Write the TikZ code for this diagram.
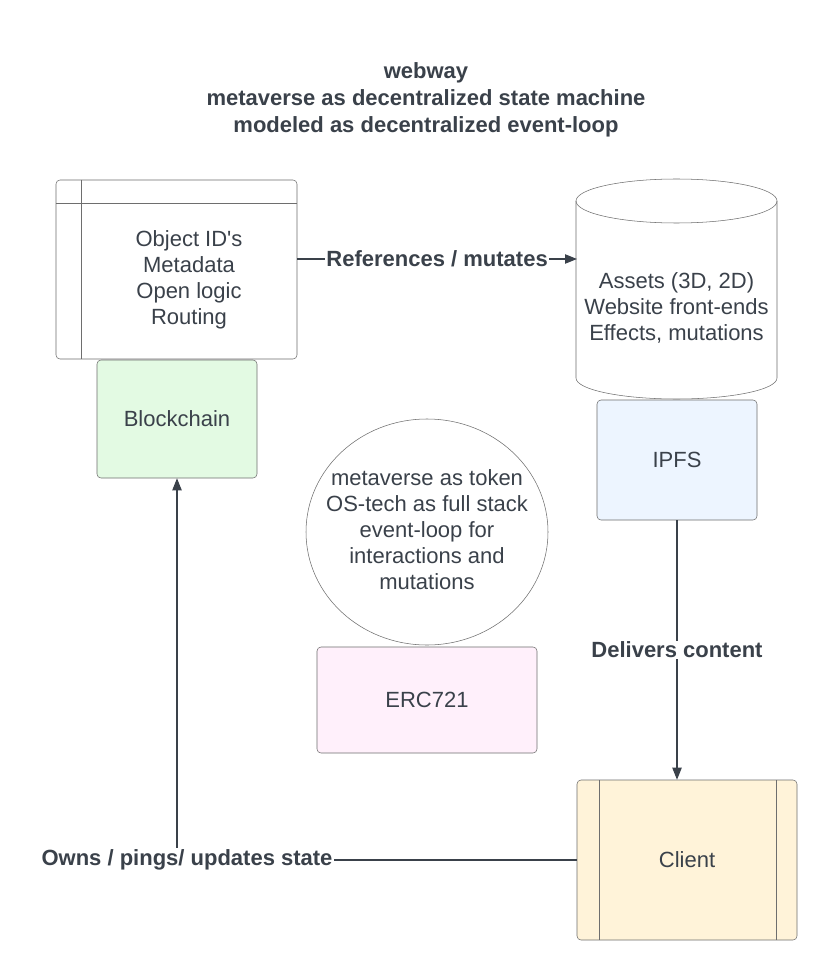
\documentclass[tikz,border=0pt]{standalone}
\usepackage{fontspec}
\setmainfont{Liberation Sans}
\usetikzlibrary{arrows.meta,shapes.geometric}
\definecolor{inkgray}{HTML}{3A414A}
\definecolor{edgegray}{HTML}{6E6E6E}
\definecolor{chainfill}{HTML}{E3FAE3}
\definecolor{ipfsfill}{HTML}{EDF5FF}
\definecolor{tokenfill}{HTML}{FFF0FB}
\definecolor{clientfill}{HTML}{FFF3D9}

\begin{document}
\begin{tikzpicture}[x=0.75pt, y=-0.75pt, >={Triangle[length=9pt,width=7pt]},
  txt/.style={text=inkgray, font=\fontsize{16.5}{19.5}\selectfont, align=center},
  card/.style={draw=edgegray, rounded corners=3pt, inner sep=0pt, txt},
  link/.style={draw=inkgray, line width=0.8pt, ->},
  lbl/.style={fill=white, inner sep=1pt, text=inkgray,
    font=\fontsize{16.5}{19.5}\selectfont\bfseries}]

\useasboundingbox[fill=white] (0,0) rectangle (837,980);

% Title
\node[txt, font=\fontsize{16.5}{20.25}\selectfont\bfseries] (title) at (426,100)
  {webway\\metaverse as decentralized state machine\\modeled as decentralized event-loop};

% On-chain object table: x 56..297, y 180..359
\node[card, minimum width=180.75pt, minimum height=134.25pt] (objbox) at (176.5,269.5) {};
\draw[edgegray] (81,180) -- (81,359);
\draw[edgegray] (56,203) -- (297,203);
\node[txt] (objtext) at (189,280) {Object ID\textquotesingle s\\Metadata\\Open logic\\Routing};

\node[card, fill=chainfill, minimum width=120pt, minimum height=88.5pt] (chain) at (177,419) {Blockchain};

% Asset store drawn as a cylinder: x 576..777, top y 201, bottom y 378
% (y axis points down, so the lower arc runs 180 -> 0)
\draw[edgegray, fill=white]
  (576,201) -- (576,378) arc[start angle=180, end angle=0, x radius=100.5, y radius=21]
  -- (777,201);
\draw[edgegray] (676.5,201) ellipse[x radius=100.5, y radius=22];
\node[txt] (assets) at (676.5,308) {Assets (3D, 2D)\\Website front-ends\\Effects, mutations};
\coordinate (refin) at (577,259);

\node[card, fill=ipfsfill, minimum width=120pt, minimum height=90pt] (ipfs) at (677,460) {IPFS};

% Token idea in the middle
\node[ellipse, draw=edgegray, txt, inner sep=0pt, minimum width=181.5pt, minimum height=169.5pt]
  (token) at (427,532) {};
\node[txt] (tokentext) at (427,530)
  {metaverse as token\\OS-tech as full stack\\event-loop for\\interactions and\\mutations};

\node[card, fill=tokenfill, minimum width=165pt, minimum height=79.5pt] (erc) at (427,700) {ERC721};

% Client: x 577..797, y 780..940
\node[card, fill=clientfill, minimum width=165pt, minimum height=120pt] (client) at (687,860) {Client};
\draw[edgegray] (599,780) -- (599,940);
\draw[edgegray] (776,780) -- (776,940);

% Connectors
\draw[link] (objbox.east |- refin) -- node[lbl] {References / mutates} (refin);
\draw[link] (ipfs.south) -- node[lbl] {Delivers content} (ipfs.south |- client.north);
\draw[link] (client.west) -| node[lbl, pos=0.4875] {Owns / pings/ updates state} (chain.south);

\end{tikzpicture}
\end{document}
